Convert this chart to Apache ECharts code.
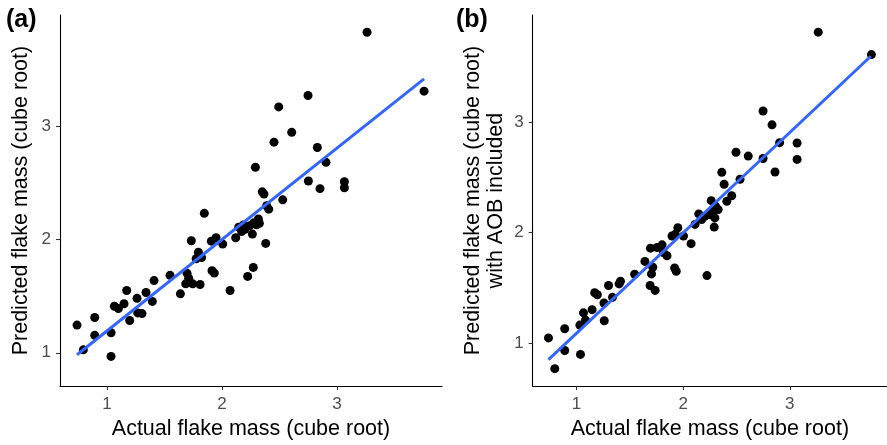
<!DOCTYPE html>
<html>
<head>
<meta charset="utf-8">
<script src="https://cdn.jsdelivr.net/npm/echarts@6/dist/echarts.min.js"></script>
<style>
html,body{margin:0;padding:0;background:#fff;}
#chart{width:887px;height:445px;}
</style>
</head>
<body>
<div id="chart"></div>
<script>
// Panel (a): actual vs predicted (cube root)
const actualA = [0.739,0.794,0.893,0.893,1.035,1.035,1.064,1.099,1.148,1.171,1.197,1.261,1.267,1.304,1.339,1.394,1.409,1.548,1.638,1.684,1.696,1.710,1.733,1.745,1.794,1.809,1.823,1.846,1.907,1.913,1.933,1.948,2.006,2.070,2.119,2.145,2.186,2.214,2.223,2.264,2.272,2.278,2.290,2.316,2.325,2.350,2.365,2.380,2.406,2.388,2.528,3.261,3.757,2.748,2.493,2.606,2.452,2.829,2.904,2.751,2.852,3.064,3.064,2.200,2.240,2.300,2.170,1.775];
const predA   = [1.244,1.026,1.311,1.154,0.968,1.177,1.410,1.390,1.433,1.549,1.285,1.480,1.352,1.346,1.532,1.453,1.637,1.683,1.520,1.608,1.701,1.657,1.988,1.608,1.887,1.602,1.840,2.230,1.985,1.724,1.703,2.015,1.959,1.549,2.015,2.108,2.128,2.113,1.674,2.047,1.753,2.148,2.637,2.180,2.142,2.420,2.400,1.965,2.267,2.297,2.349,3.828,3.308,3.270,3.169,2.945,2.858,2.811,2.680,2.515,2.448,2.509,2.456,2.090,2.120,2.130,2.070,1.830];
// Panel (b): actual vs predicted with AOB included
const actualB = [0.737,0.796,0.889,0.889,1.037,1.031,1.065,1.084,1.146,1.170,1.195,1.260,1.257,1.300,1.337,1.399,1.412,1.545,1.641,1.690,1.703,1.715,1.737,1.693,1.755,1.802,1.848,1.814,1.895,1.926,1.950,1.920,1.935,2.003,2.074,2.111,2.146,2.173,2.204,2.251,2.282,2.297,2.303,2.328,2.263,2.291,2.223,2.362,2.384,2.409,2.455,2.495,2.533,2.610,2.749,2.749,2.833,2.861,2.904,3.068,3.068,3.266,3.765];
const predB   = [1.048,0.770,1.131,0.934,0.899,1.164,1.275,1.209,1.304,1.457,1.439,1.203,1.364,1.522,1.415,1.537,1.561,1.624,1.740,1.522,1.627,1.687,1.478,1.860,1.866,1.890,1.791,1.821,1.970,1.985,2.045,1.681,1.651,1.970,1.901,2.075,2.170,2.119,2.149,2.164,2.194,2.134,2.239,2.209,2.290,2.051,1.612,2.546,2.439,2.284,2.334,2.728,2.484,2.693,3.101,2.672,2.976,2.549,2.815,2.812,2.663,3.815,3.612];
// Linear fit endpoints
const fitA = [[0.739,0.983],[3.757,3.416]];
const fitB = [[0.737,0.851],[3.759,3.597]];
const tickValues = [1,2,3];
const xTitle = 'Actual flake mass (cube root)';
const yTitleA = 'Predicted flake mass (cube root)';
const yTitleB = 'Predicted flake mass (cube root)\nwith AOB included';

const FONT = '"Liberation Sans", Arial, Helvetica, sans-serif';
const chart = echarts.init(document.getElementById('chart'), null, {renderer:'canvas'});

function zip(xs, ys){ return xs.map((x,i)=>[x, ys[i]]); }

function xAxisCfg(gi, min, max){
  return {
    type:'value', gridIndex:gi, min:min, max:max,
    name:xTitle, nameLocation:'middle', nameGap:29.5,
    nameTextStyle:{fontFamily:FONT, fontSize:21.5, color:'#000'},
    axisLine:{show:true, onZero:false, lineStyle:{color:'#000', width:1.1}},
    axisTick:{show:true, length:4, customValues:tickValues, lineStyle:{color:'#333', width:1.1}},
    axisLabel:{show:true, customValues:tickValues, margin:10, fontFamily:FONT, fontSize:17, color:'#4D4D4D'},
    splitLine:{show:false}
  };
}
function yAxisCfg(gi, min, max, name, gap){
  return {
    type:'value', gridIndex:gi, min:min, max:max,
    name:name, nameLocation:'middle', nameGap:gap,
    nameTextStyle:{fontFamily:FONT, fontSize:21.5, color:'#000', lineHeight:23.3},
    axisLine:{show:true, onZero:false, lineStyle:{color:'#000', width:1.1}},
    axisTick:{show:true, length:4, customValues:tickValues, lineStyle:{color:'#333', width:1.1}},
    axisLabel:{show:true, customValues:tickValues, margin:9, fontFamily:FONT, fontSize:17, color:'#4D4D4D'},
    splitLine:{show:false}
  };
}

chart.setOption({
  animation:false,
  backgroundColor:'#fff',
  grid:[
    {left:60, top:15, width:382, height:375.7},
    {left:532.7, top:15, width:357.8, height:375}
  ],
  xAxis:[ xAxisCfg(0, 0.591, 3.913), xAxisCfg(1, 0.589, 3.911) ],
  yAxis:[ yAxisCfg(0, 0.706, 3.98, yTitleA, 27), yAxisCfg(1, 0.612, 3.97, yTitleB, 25) ],
  graphic:[
    {type:'text', left:6, top:8, style:{text:'(a)', font:'bold 25px '+FONT, fill:'#000'}},
    {type:'text', left:456, top:8, style:{text:'(b)', font:'bold 25px '+FONT, fill:'#000'}}
  ],
  series:[
    {type:'scatter', xAxisIndex:0, yAxisIndex:0, data:zip(actualA, predA), symbolSize:9, itemStyle:{color:'#000', opacity:1}, z:2},
    {type:'line', xAxisIndex:0, yAxisIndex:0, data:fitA, showSymbol:false, symbol:'none', lineStyle:{color:'#3366FF', width:3}, z:3},
    {type:'scatter', xAxisIndex:1, yAxisIndex:1, data:zip(actualB, predB), symbolSize:9, itemStyle:{color:'#000', opacity:1}, z:2},
    {type:'line', xAxisIndex:1, yAxisIndex:1, data:fitB, showSymbol:false, symbol:'none', lineStyle:{color:'#3366FF', width:3}, z:3}
  ]
});
</script>
</body>
</html>
